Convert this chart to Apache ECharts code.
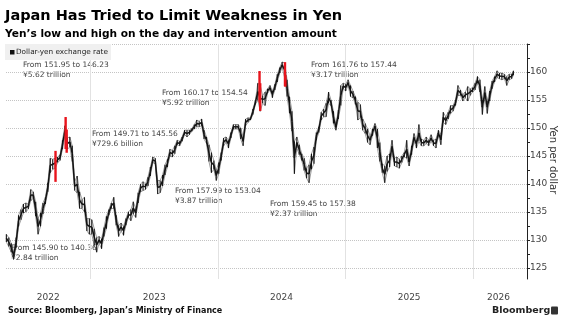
<!DOCTYPE html>
<html><head><meta charset="utf-8">
<script src="https://cdn.jsdelivr.net/npm/echarts@6/dist/echarts.min.js"></script>
<style>html,body{margin:0;padding:0;background:#fff}#c{width:571px;height:328px}</style>
</head><body><div id="c"></div>
<script>
// ---- data (weekly band of USD/JPY) ----
const dates2022 = ['2022-05-04','2022-05-11','2022-05-18','2022-05-25','2022-06-01','2022-06-08','2022-06-15','2022-06-22','2022-06-29','2022-07-06','2022-07-13','2022-07-20','2022-07-27','2022-08-03','2022-08-10','2022-08-17','2022-08-24','2022-08-31','2022-09-07','2022-09-14','2022-09-21','2022-09-28','2022-10-05','2022-10-12','2022-10-19','2022-10-26','2022-11-02','2022-11-09','2022-11-16','2022-11-23','2022-11-30','2022-12-07','2022-12-14','2022-12-21','2022-12-28'];
const low2022  = [129.6,128.8,127.8,126.6,128.6,132.4,133.6,134.8,135.0,135.5,137.0,137.4,134.2,131.0,132.4,134.6,136.4,138.6,142.0,142.6,142.8,143.8,144.2,146.2,148.6,146.2,146.6,144.0,138.8,138.4,135.6,135.6,135.0,131.6,131.0];
const high2022 = [131.0,130.4,129.4,127.8,130.4,134.4,135.4,136.4,136.6,136.4,139.0,138.6,136.8,133.8,134.8,136.6,137.6,140.2,144.6,144.4,144.6,144.8,145.2,147.8,150.4,148.2,148.4,146.8,140.4,141.4,138.6,137.2,137.6,133.8,133.8];

const dates2023 = ['2023-01-04','2023-01-11','2023-01-18','2023-01-25','2023-02-01','2023-02-08','2023-02-15','2023-02-22','2023-03-01','2023-03-08','2023-03-15','2023-03-22','2023-03-29','2023-04-05','2023-04-12','2023-04-19','2023-04-26','2023-05-03','2023-05-10','2023-05-17','2023-05-24','2023-05-31','2023-06-07','2023-06-14','2023-06-21','2023-06-28','2023-07-05','2023-07-12','2023-07-19','2023-07-26','2023-08-02','2023-08-09','2023-08-16','2023-08-23','2023-08-30','2023-09-06','2023-09-13','2023-09-20','2023-09-27','2023-10-04','2023-10-11','2023-10-18','2023-10-25','2023-11-01','2023-11-08','2023-11-15','2023-11-22','2023-11-29','2023-12-06','2023-12-13','2023-12-20','2023-12-27'];
const low2023  = [131.0,129.0,127.8,129.4,128.4,130.6,132.0,134.4,135.6,135.6,132.6,130.6,131.6,130.8,132.6,134.0,133.4,134.6,134.0,136.6,138.6,138.8,139.0,139.6,141.4,143.8,143.6,138.2,138.4,139.6,141.6,143.0,145.0,144.8,145.4,147.0,146.8,147.6,148.8,148.4,148.8,149.4,149.8,150.2,150.2,150.4,148.0,147.2,144.0,142.0,142.6,140.6];
const high2023 = [133.6,132.0,130.4,130.6,130.2,132.2,134.2,135.4,136.6,137.6,134.4,132.6,133.0,132.4,133.8,135.0,135.4,136.8,135.6,138.4,140.0,140.4,140.0,141.2,143.0,144.8,144.6,140.6,140.6,141.6,143.4,144.4,146.2,146.0,146.8,147.8,147.6,148.4,149.6,149.6,149.6,149.9,150.6,151.4,151.2,151.6,149.6,148.4,147.0,145.6,144.2,142.4];

const dates2024 = ['2024-01-03','2024-01-10','2024-01-17','2024-01-24','2024-01-31','2024-02-07','2024-02-14','2024-02-21','2024-02-28','2024-03-06','2024-03-13','2024-03-20','2024-03-27','2024-04-03','2024-04-10','2024-04-17','2024-04-24','2024-05-01','2024-05-08','2024-05-15','2024-05-22','2024-05-29','2024-06-05','2024-06-12','2024-06-19','2024-06-26','2024-07-03','2024-07-10','2024-07-17','2024-07-24','2024-07-31','2024-08-07','2024-08-14','2024-08-21','2024-08-28','2024-09-04','2024-09-11','2024-09-18','2024-09-25','2024-10-02','2024-10-09','2024-10-16','2024-10-23','2024-10-30','2024-11-06','2024-11-13','2024-11-20','2024-11-27','2024-12-04','2024-12-11','2024-12-18','2024-12-25'];
const low2024  = [141.8,144.2,146.8,147.4,146.4,148.2,149.8,149.8,149.8,148.0,146.8,150.4,151.0,151.4,152.4,154.2,155.0,153.0,154.4,154.0,156.2,156.8,155.4,156.8,158.2,159.8,160.8,159.0,155.6,152.6,149.4,141.8,146.4,145.2,144.2,142.4,141.0,140.2,142.6,143.6,147.8,149.2,151.4,152.0,152.0,154.4,154.0,150.8,149.6,151.6,154.0,157.0];
const high2024 = [143.8,145.6,148.2,148.4,147.8,149.2,150.6,150.6,150.6,150.0,148.4,151.6,151.8,151.8,153.4,154.8,158.0,157.6,155.8,156.4,157.0,157.6,156.6,157.8,159.6,160.8,161.8,161.6,158.6,155.6,153.0,147.6,148.4,147.0,145.4,144.6,142.8,143.4,145.4,146.6,149.2,150.2,152.8,153.4,154.4,156.4,155.0,153.0,150.6,153.2,157.6,158.0];

const dates2025 = ['2025-01-01','2025-01-08','2025-01-15','2025-01-22','2025-01-29','2025-02-05','2025-02-12','2025-02-19','2025-02-26','2025-03-05','2025-03-12','2025-03-19','2025-03-26','2025-04-02','2025-04-09','2025-04-16','2025-04-23','2025-04-30','2025-05-07','2025-05-14','2025-05-21','2025-05-28','2025-06-04','2025-06-11','2025-06-18','2025-06-25','2025-07-02','2025-07-09','2025-07-16','2025-07-23','2025-07-30','2025-08-06','2025-08-13','2025-08-20','2025-08-27','2025-09-03','2025-09-10','2025-09-17','2025-09-24','2025-10-01','2025-10-08','2025-10-15','2025-10-22','2025-10-29','2025-11-05','2025-11-12','2025-11-19','2025-11-26','2025-12-03','2025-12-10','2025-12-17','2025-12-24','2025-12-31'];
const low2025  = [156.6,157.6,155.6,155.4,154.2,151.4,151.8,149.6,149.0,147.4,147.0,148.6,149.8,146.4,144.0,142.0,140.2,142.2,143.0,145.6,143.2,143.0,142.8,143.8,144.8,144.6,143.2,145.2,147.6,146.4,147.6,146.8,146.8,147.2,146.8,147.6,146.8,146.4,148.6,147.0,151.0,150.6,151.6,152.6,153.0,154.0,155.8,155.8,154.8,155.4,154.8,155.8,156.4];
const high2025 = [157.8,158.6,157.6,156.6,155.6,154.6,154.2,151.6,150.8,149.8,148.6,149.8,150.8,149.8,147.4,143.6,143.2,145.0,145.4,147.8,144.6,144.8,144.4,145.0,145.6,147.8,144.6,146.8,149.0,147.8,150.6,148.0,147.8,148.4,147.8,148.8,147.8,148.0,149.6,148.8,152.8,152.0,152.8,154.0,154.0,155.0,157.6,156.8,156.0,156.4,157.4,157.0,157.2];

const dates2026 = ['2026-01-07','2026-01-14','2026-01-21','2026-01-28','2026-02-04','2026-02-11','2026-02-18','2026-02-25','2026-03-04','2026-03-11','2026-03-18','2026-03-25','2026-04-01','2026-04-08','2026-04-15','2026-04-22','2026-04-27'];
const low2026  = [156.8,158.0,156.4,152.4,155.2,152.6,154.8,157.0,158.2,159.0,158.8,158.6,158.8,157.6,158.6,158.8,159.4];
const high2026 = [158.0,159.2,158.6,155.0,157.4,154.8,156.6,158.4,159.2,160.2,159.8,159.8,159.6,159.2,159.6,159.6,160.2];

// intervention days (red bars) and annotations
const interventionDates  = ['2022-09-22','2022-10-21','2022-10-24','2024-04-29','2024-05-01','2024-07-11','2024-07-12'];
const interventionFrom   = ['145.90','151.95','149.71','160.17','157.99','161.76','159.45'];
const interventionTo     = ['140.36','146.23','145.56','154.54','153.04','157.44','157.38'];
const interventionAmount = ['¥2.84 trillion','¥5.62 trillion','¥729.6 billion','¥5.92 trillion','¥3.87 trillion','¥3.17 trillion','¥2.37 trillion'];

// axes
const yLabelValues = [125,130,135,140,145,150,155,160];
const yMajorTicks  = [125,130,135,140,145,150,155,160,165];
const yMinorTicks  = [127.5,132.5,137.5,142.5,147.5,152.5,157.5,162.5];
const yearStarts   = ['2023-01-01','2024-01-01','2025-01-01','2026-01-01'];
const yearLabelAt  = ['2022-09-01','2023-07-02','2024-07-01','2025-07-02','2026-03-15'];
const xRange       = ['2022-05-03','2026-06-05'];

// ---- layout (text positions) ----
const annotationPos = [[11,248],[23,65],[92,134],[162,93],[175,191],[311,65],[270,204]];

const T = (s)=>Date.parse(s);
const dates = [].concat(dates2022,dates2023,dates2024,dates2025,dates2026);
const lows  = [].concat(low2022,low2023,low2024,low2025,low2026);
const highs = [].concat(high2022,high2023,high2024,high2025,high2026);
const bandData = dates.map((d,i)=>[T(d),lows[i],highs[i]]);
const redData = interventionDates.map((d,i)=>[T(d), +interventionTo[i], +interventionFrom[i]]);

const FONT = 'DejaVu Sans';
const INK = '#141414';

function renderBand(params, api){
  const i = params.dataIndexInside;
  const t = api.value(0), lo = api.value(1), hi = api.value(2);
  const pHi = api.coord([t, hi]);
  const pLo = api.coord([t, lo]);
  const children = [
    {type:'line', shape:{x1:pHi[0], y1:pHi[1], x2:pLo[0], y2:pLo[1]}, style:{stroke:INK, lineWidth:1.1}}
  ];
  if (i > 0) {
    const pt = api.value(0,i-1), plo = api.value(1,i-1), phi = api.value(2,i-1);
    const a = api.coord([pt, (plo+phi)/2]);
    const b = api.coord([t, (lo+hi)/2]);
    children.push({type:'line', shape:{x1:a[0], y1:a[1], x2:b[0], y2:b[1]}, style:{stroke:INK, lineWidth:1.5}});
    // link previous high/low to current to keep the band continuous
    const ah = api.coord([pt, phi]), al = api.coord([pt, plo]);
    children.push({type:'line', shape:{x1:ah[0], y1:ah[1], x2:pHi[0], y2:pHi[1]}, style:{stroke:INK, lineWidth:0.6, opacity:0.7}});
    children.push({type:'line', shape:{x1:al[0], y1:al[1], x2:pLo[0], y2:pLo[1]}, style:{stroke:INK, lineWidth:0.6, opacity:0.7}});
  }
  return {type:'group', children};
}
function renderRed(params, api){
  const a = api.coord([api.value(0), api.value(1)]);
  const b = api.coord([api.value(0), api.value(2)]);
  return {type:'rect', shape:{x:a[0]-1.2, y:Math.min(a[1],b[1]), width:2.4, height:Math.abs(a[1]-b[1])}, style:{fill:'#e8141c'}};
}

const graphics = [
  {type:'text', x:5, y:16.5, style:{text:'Japan Has Tried to Limit Weakness in Yen', fontFamily:FONT, fontWeight:'bold', fontSize:14.5, fill:'#000', verticalAlign:'middle'}},
  {type:'text', x:5, y:34.5, style:{text:'Yen’s low and high on the day and intervention amount', fontFamily:FONT, fontWeight:'bold', fontSize:10.6, fill:'#000', verticalAlign:'middle'}},
  {type:'rect', shape:{x:5, y:44, width:106, height:16}, style:{fill:'#f0f0f0'}, z:1},
  {type:'rect', shape:{x:10, y:50, width:4.5, height:4.5}, style:{fill:'#111'}, z:2},
  {type:'text', x:16, y:52.5, style:{text:'Dollar-yen exchange rate', fontFamily:FONT, fontSize:7.3, fill:'#222', verticalAlign:'middle'}, z:2},
  {type:'text', x:8, y:310.5, style:{text:'Source: Bloomberg, Japan’s Ministry of Finance', fontFamily:FONT, fontWeight:'bold', fontSize:8, fill:'#111', verticalAlign:'middle'}},
  {type:'text', x:492, y:311, style:{text:'Bloomberg', fontFamily:FONT, fontWeight:'bold', fontSize:9.5, fill:'#222', verticalAlign:'middle'}},
  {type:'rect', shape:{x:551, y:306.5, width:7, height:8, r:1}, style:{fill:'#333'}},
  {type:'text', x:553, y:160, rotation:-Math.PI/2, style:{text:'Yen per dollar', fontFamily:FONT, fontSize:10, fill:'#333', align:'center', verticalAlign:'middle'}}
];
interventionDates.forEach((d,i)=>{
  const p = annotationPos[i];
  graphics.push({type:'text', x:p[0], y:p[1], z:0, style:{text:'From '+interventionFrom[i]+' to '+interventionTo[i], fontFamily:FONT, fontSize:7.5, fill:'#444', verticalAlign:'middle'}});
  graphics.push({type:'text', x:p[0], y:p[1]+10, z:0, style:{text:interventionAmount[i], fontFamily:FONT, fontSize:7.5, fill:'#444', verticalAlign:'middle'}});
});

const chart = echarts.init(document.getElementById('c'), null, {renderer:'canvas'});
chart.setOption({
  animation:false,
  backgroundColor:'#fff',
  grid:{left:6, right:44, top:44, bottom:49, containLabel:false, outerBoundsMode:'none'},
  xAxis:{
    type:'value', min:T(xRange[0]), max:T(xRange[1]), scale:true,
    axisLine:{show:false}, axisTick:{show:false, customValues:yearStarts.map(T)},
    splitLine:{show:true, lineStyle:{color:'#e2e2e2', width:1, type:'solid'}},
    axisLabel:{customValues:yearLabelAt.map(T), margin:14, fontFamily:FONT, fontSize:9, color:'#444',
      formatter:(v)=>String(new Date(v).getUTCFullYear())}
  },
  yAxis:[{
    type:'value', position:'right', min:123, max:165,
    axisLine:{show:true, lineStyle:{color:'#222', width:1}},
    axisTick:{show:true, length:3, customValues:yMajorTicks, lineStyle:{color:'#222'}},
    splitLine:{show:true, lineStyle:{color:'#c4c4c4', width:1, type:'dotted'}},
    axisLabel:{customValues:yLabelValues, margin:3, fontFamily:FONT, fontSize:9, color:'#444'}
  },{
    type:'value', position:'right', min:123, max:165,
    axisLine:{show:false}, splitLine:{show:false},
    axisTick:{show:true, length:3, customValues:yMinorTicks, lineStyle:{color:'#222'}},
    axisLabel:{show:false}
  }],
  graphic:graphics,
  series:[
    {type:'custom', name:'Dollar-yen exchange rate', renderItem:renderBand, data:bandData, encode:{x:0, y:[1,2]}, z:3},
    {type:'custom', name:'Intervention', renderItem:renderRed, data:redData, encode:{x:0, y:[1,2]}, z:4}
  ]
});
</script></body></html>
